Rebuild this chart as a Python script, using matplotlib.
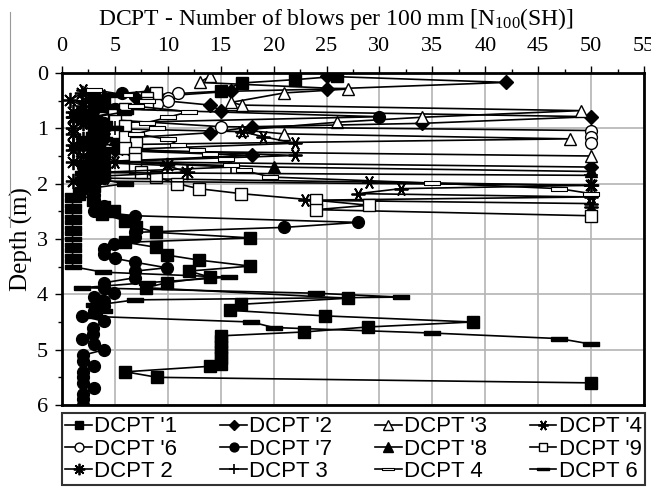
import matplotlib.pyplot as plt
from matplotlib.lines import Line2D

plt.rcParams['font.family'] = 'Liberation Serif'

# DCPT '1
depth_1 = [0.06, 0.12, 0.18, 0.33, 0.45, 0.55, 0.65, 0.75, 0.85, 0.95, 1.05, 1.15, 1.25, 1.35, 1.45, 1.55,
           1.65, 1.75, 1.85, 1.95, 2.05, 2.18, 2.3, 2.42, 2.49, 2.55, 2.67, 2.78, 2.88, 2.98, 3.06, 3.15,
           3.29, 3.38, 3.49, 3.58, 3.69, 3.79, 3.88, 4.07, 4.18, 4.29, 4.39, 4.5, 4.59, 4.68, 4.75, 4.85,
           4.95, 5.05, 5.15, 5.25, 5.3, 5.4, 5.5, 5.6]
blows_1 = [26, 22, 17, 15, 3, 4, 3, 2, 3, 4, 3, 3, 2, 3, 4, 3,
           3, 4, 3, 2, 3, 1.6, 2.9, 4, 4.9, 3.8, 6, 7, 8.9, 17.8, 6, 8.9,
           9.9, 12.9, 17.8, 12, 14, 9.9, 7.9, 27, 16.9, 15.9, 24.9, 38.8, 28.9, 22.9, 15, 15,
           15, 15, 15, 15, 14, 6, 9, 50]

# DCPT '2
depth_2 = [0.06, 0.17, 0.29, 0.33, 0.45, 0.58, 0.68, 0.79, 0.91, 0.97, 1.08, 1.2, 1.3, 1.4, 1.49, 1.6, 1.7]
blows_2 = [25, 42, 25, 16, 7, 14, 15, 50, 34, 18, 14, 4, 3, 5, 18, 4, 50]

# DCPT '3
depth_3 = [0.06, 0.17, 0.29, 0.36, 0.53, 0.58, 0.68, 0.8, 0.89, 1.03, 1.1, 1.19, 1.3, 1.4, 1.5]
blows_3 = [14, 13, 27, 21, 16, 17, 49, 34, 26, 17, 21, 48, 3, 2, 50]

# DCPT '4
depth_4 = [0.3, 0.4, 0.5, 0.6, 0.7, 0.8, 0.9, 1.0, 1.06, 1.15, 1.27, 1.38, 1.49, 1.6, 1.7, 1.8, 1.9,
           1.97, 2.03, 2.09, 2.18, 2.24, 2.3, 2.36, 2.42]
blows_4 = [2, 3, 2, 3, 2, 1, 2, 3, 17, 19, 22, 6, 22, 5, 4, 3, 4,
           29, 50, 32, 28, 50, 23, 50, 50]

# DCPT '6
depth_6 = [0.36, 0.45, 0.5, 0.56, 0.65, 0.75, 0.85, 0.97, 1.04, 1.15, 1.26]
blows_6 = [11, 10, 10, 9, 5, 4, 5, 15, 50, 50, 50]

# DCPT '7
depth_7 = [0.36, 0.45, 0.55, 0.65, 0.79, 0.9, 1.0, 1.1, 1.2, 1.3, 1.4, 1.5, 1.6, 1.7, 1.8, 1.9, 2.0,
           2.1, 2.2, 2.3, 2.4, 2.5, 2.58, 2.7, 2.79, 2.88, 2.97, 3.09, 3.18, 3.27, 3.35, 3.42, 3.52,
           3.58, 3.7, 3.79, 3.88, 3.97, 4.05, 4.12, 4.21, 4.3, 4.39, 4.49, 4.6, 4.72, 4.8, 4.9, 5.0,
           5.1, 5.2, 5.3, 5.4, 5.5, 5.6, 5.7, 5.8, 5.9, 6.0]
blows_7 = [5.7, 3, 4, 5, 30, 4, 3, 4, 3, 2, 3, 4, 3, 2, 3, 4, 3,
           2, 3, 3, 4, 3, 6.9, 28, 21, 6.9, 6.9, 4.9, 4, 4, 5, 6.9, 9.9,
           6.9, 6.9, 4, 4, 4.9, 3, 4, 4, 3, 1.9, 4, 2.9, 2.9, 1.9, 3, 4,
           2, 2, 3, 2, 2, 2, 3, 2, 2, 2]

# DCPT '8
depth_8 = [0.33, 0.4, 0.5, 0.6, 0.7, 0.8, 0.9, 1.0, 1.1, 1.2, 1.3, 1.4, 1.5, 1.6, 1.7, 1.78]
blows_8 = [8, 4, 3, 4, 5, 3, 4, 3, 4, 5, 3, 4, 3, 4, 20, 50]

# DCPT '9
depth_9 = [0.36, 0.45, 0.54, 0.65, 0.76, 0.86, 0.96, 1.06, 1.16, 1.26, 1.36, 1.45, 1.55, 1.69, 1.79,
           1.88, 2.0, 2.09, 2.18, 2.3, 2.39, 2.47, 2.58]
blows_9 = [8.9, 8, 8, 6, 4.9, 5, 6, 5, 6, 7, 6, 6.9, 6.9, 6.9, 7.5,
           8.9, 10.9, 12.9, 16.9, 24, 29, 24, 50]

# DCPT 2
depth_b2 = [0.36, 0.49, 0.6, 0.7, 0.8, 0.9, 1.0, 1.1, 1.2, 1.3, 1.4, 1.5, 1.6, 1.67, 1.79, 1.88, 1.95, 2.03]
blows_b2 = [1.9, 0.8, 2, 1, 1, 2, 1, 1, 2, 1, 1, 2, 1, 9.9, 11.8, 1.9, 1, 50]

# DCPT 3
depth_b3 = [0.4, 0.5, 0.6, 0.7, 0.8, 0.9, 1.0, 1.1, 1.2, 1.3, 1.4, 1.5, 1.6, 1.7, 1.8, 1.85]
blows_b3 = [3, 2, 4, 3, 2, 3, 5, 4, 3, 2, 3, 4, 5, 16, 3, 50]

# DCPT 4
depth_b4 = [0.3, 0.4, 0.5, 0.6, 0.7, 0.8, 0.9, 1.0, 1.1, 1.2, 1.3, 1.39, 1.47, 1.56, 1.66, 1.76, 1.88,
            1.99, 2.09, 2.18]
blows_b4 = [3, 6, 8, 7, 12, 10, 8, 9, 7, 10, 11, 12.8, 14, 15.5, 16, 17.2, 19.7,
            35, 47, 50]

# DCPT 6
depth_b6 = [0.4, 0.5, 0.6, 0.7, 0.8, 0.9, 1.0, 1.1, 1.2, 1.3, 1.4, 1.5, 1.6, 1.7, 1.8, 1.9, 2.0, 2.1,
            2.2, 2.3, 2.4, 2.5, 2.6, 2.7, 2.8, 2.9, 3.0, 3.1, 3.2, 3.3, 3.4, 3.5, 3.6, 3.69, 3.79,
            3.88, 3.98, 4.05, 4.1, 4.2, 4.3, 4.4, 4.5, 4.6, 4.7, 4.8, 4.9]
blows_b6 = [5, 3, 4, 6, 3, 4, 5, 3, 4, 3, 4, 3, 2, 3, 2, 3, 6, 2,
            1, 1, 1, 1, 1, 1, 1, 1, 1, 1, 1, 1, 1, 1, 3.9, 15.8, 8,
            1.9, 24, 32, 6.9, 3, 4, 3, 17.9, 20, 35, 47, 50]

bar = [(-1, -0.22), (1, -0.22), (1, 0.22), (-1, 0.22), (-1, -0.22)]

series = [
    ("DCPT '1", depth_1, blows_1, dict(marker='s', ms=8, mfc='black')),
    ("DCPT '2", depth_2, blows_2, dict(marker='D', ms=7, mfc='black')),
    ("DCPT '3", depth_3, blows_3, dict(marker='^', ms=9, mfc='white')),
    ("DCPT '4", depth_4, blows_4, dict(marker=(6, 2, 90), ms=10, mew=1.3)),
    ("DCPT '6", depth_6, blows_6, dict(marker='o', ms=8.5, mfc='white')),
    ("DCPT '7", depth_7, blows_7, dict(marker='o', ms=8.5, mfc='black')),
    ("DCPT '8", depth_8, blows_8, dict(marker='^', ms=9, mfc='black')),
    ("DCPT '9", depth_9, blows_9, dict(marker='s', ms=8.5, mfc='white')),
    ("DCPT 2", depth_b2, blows_b2, dict(marker=(8, 2, 0), ms=11, mew=1.3)),
    ("DCPT 3", depth_b3, blows_b3, dict(marker='+', ms=10, mew=1.2)),
    ("DCPT 4", depth_b4, blows_b4, dict(marker=bar, ms=12, mfc='white', mew=0.8)),
    ("DCPT 6", depth_b6, blows_b6, dict(marker=bar, ms=12, mfc='black')),
]

fig = plt.figure(figsize=(6.51, 4.87), dpi=100)
ax = fig.add_axes([62 / 651, 1 - 405 / 487, 582 / 651, 332 / 487])

handles = []
for label, d, n, style in series:
    h, = ax.plot(n, d, color='black', lw=1.2, mec='black', label=label, **style)
    handles.append(h)

ax.set_xlim(0, 55)
ax.set_ylim(6, 0)
ax.xaxis.tick_top()
ax.set_xticks(range(0, 56, 5))
ax.set_xticks([x + 2.5 for x in range(0, 55, 5)], minor=True)
ax.set_yticks(range(0, 7))
ax.set_yticks([y + 0.5 for y in range(0, 6)], minor=True)
ax.grid(True, which='major', color='#b4b4b4', lw=1.2)
ax.set_axisbelow(True)
ax.tick_params(which='major', direction='out', length=5, width=1, labelsize=16, pad=7)
ax.tick_params(axis='y', which='major', pad=5)
ax.tick_params(which='minor', direction='out', length=3, width=1)
for s in ax.spines.values():
    s.set_linewidth(2)

ax.set_ylabel('Depth (m)', fontsize=18, labelpad=3)
fig.text(336 / 651, 1 - 19 / 487, r'DCPT - Number of blows per 100 mm [$\mathregular{N_{100}}$(SH)]',
         ha='center', va='center', fontsize=17)

# legend row-wise order -> column-major for matplotlib
order = [0, 4, 8, 1, 5, 9, 2, 6, 10, 3, 7, 11]
leg = fig.legend([handles[i] for i in order], [series[i][0] for i in order],
                 loc='lower left', bbox_to_anchor=(62 / 651, 2 / 487, 583 / 651, 75 / 487),
                 mode='expand', ncol=4, prop={'family': 'Liberation Sans', 'size': 16},
                 fancybox=False, edgecolor='black', handlelength=1.2, handletextpad=0.1,
                 borderaxespad=0, labelspacing=0.05, borderpad=0.15, markerscale=0.75)
leg.get_frame().set_linewidth(1.5)

# page edge line on the left
fig.add_artist(Line2D([10 / 651, 10 / 651], [1 - 12 / 487, 1 - 227 / 487], color='#999999', lw=0.8))

fig.savefig('out.png', dpi=100)
